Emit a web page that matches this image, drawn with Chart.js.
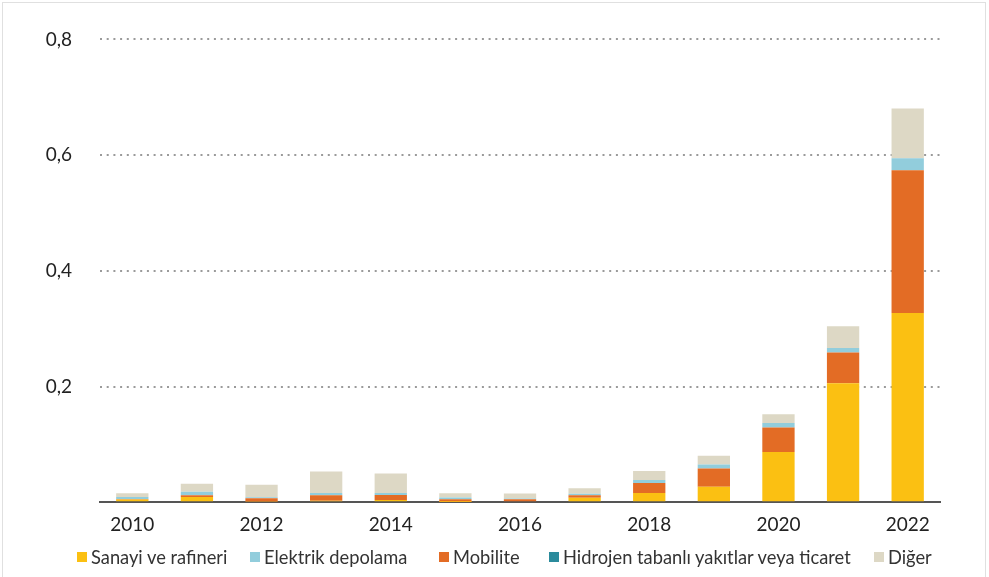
<!DOCTYPE html>
<html><head><meta charset="utf-8">
<script src="https://cdn.jsdelivr.net/npm/chart.js@4"></script>
<style>
html,body{margin:0;padding:0;background:#fff;overflow:hidden;}
#wrap{position:relative;width:989px;height:577px;}
#frame{position:absolute;left:2px;top:2px;width:982px;height:590px;border:1px solid #e0e0e0;pointer-events:none;}
canvas{display:block;}
.lg{position:absolute;top:547px;height:20px;display:flex;align-items:center;font-family:Lato,sans-serif;font-size:18.3px;color:#333;white-space:nowrap;}
.lg i{display:inline-block;width:10px;height:10px;margin-right:4px;}
</style></head><body>
<div id="wrap"><canvas id="c" width="989" height="577"></canvas><div id="legend"></div><div id="frame"></div></div>
<script>
const years = ['2010','2011','2012','2013','2014','2015','2016','2017','2018','2019','2020','2021','2022'];
const sanayi   = [0.0046,0.0092,0.0010,0.0023,0.0040,0.0005,0.0017,0.0075,0.0160,0.0265,0.0869,0.2056,0.3270];
const elektrik = [0.0035,0.0058,0.0017,0.0040,0.0035,0.0029,0.0012,0.0023,0.0052,0.0069,0.0080,0.0080,0.0207];
const mobilite = [0.0010,0.0030,0.0060,0.0098,0.0086,0.0046,0.0035,0.0046,0.0173,0.0317,0.0422,0.0530,0.2470];
const hidrojen = [0,0,0,0,0,0,0,0,0,0,0,0,0];
const diger    = [0.0064,0.0138,0.0213,0.0369,0.0334,0.0075,0.0086,0.0098,0.0155,0.0150,0.0150,0.0375,0.0859];
const yTicks = [0, 0.2, 0.4, 0.6, 0.8];

const FONT = 'Lato';
const ds = (label, data, color, order) => ({label, data, backgroundColor: color, borderWidth: 0, order, barPercentage: 0.5, categoryPercentage: 1});

const chart = new Chart(document.getElementById('c'), {
  type: 'bar',
  data: {
    labels: years,
    datasets: [
      ds('Sanayi ve rafineri', sanayi, '#FBC012', 0),
      ds('Elektrik depolama', elektrik, '#92CDDC', 2),
      ds('Mobilite', mobilite, '#E36C25', 1),
      ds('Hidrojen tabanlı yakıtlar veya ticaret', hidrojen, '#2B8B9C', 3),
      ds('Diğer', diger, '#DDD8C5', 4)
    ]
  },
  options: {
    responsive: false,
    animation: false,
    devicePixelRatio: 1,
    layout: { padding: { top: 39, right: 49, left: 0, bottom: 30 } },
    plugins: {
      tooltip: { enabled: false },
      legend: { display: false }
    },
    scales: {
      x: {
        stacked: true,
        grid: { display: false, drawTicks: false },
        border: { display: true, color: '#555', width: 2 },
        ticks: {
          autoSkip: false, maxRotation: 0, padding: 11,
          color: '#222', font: { family: FONT, size: 19 },
          callback: (v, i) => (i % 2 === 0 ? years[i] : '')
        }
      },
      y: {
        stacked: true, min: 0, max: 0.8,
        afterFit: s => { s.width = 100; },
        afterBuildTicks: s => { s.ticks = yTicks.map(v => ({value: v})); },
        border: { display: false, dash: [2, 4.7] },
        grid: {
          drawTicks: false, lineWidth: 2,
          color: c => (c.tick && c.tick.value === 0 ? 'rgba(0,0,0,0)' : '#9a9a9a'),
        },
        ticks: {
          padding: 28, color: '#222', font: { family: FONT, size: 19 },
          callback: v => (v === 0 ? '' : v.toFixed(1).replace('.', ','))
        }
      }
    }
  }
});

// HTML legend built from the chart's datasets (legend order = dataset order)
const legendX = [77, 250, 439, 549, 874];
const lg = document.getElementById('legend');
chart.data.datasets.forEach((d, i) => {
  const el = document.createElement('div');
  el.className = 'lg';
  el.style.left = legendX[i] + 'px';
  el.innerHTML = '<i style="background:' + d.backgroundColor + '"></i>';
  el.appendChild(document.createTextNode(d.label));
  lg.appendChild(el);
});
</script>
</body></html>
